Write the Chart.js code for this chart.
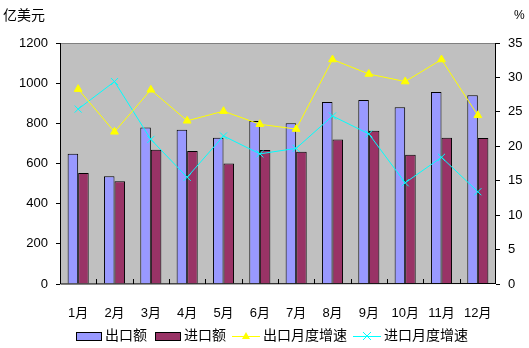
<!DOCTYPE html>
<html>
<head>
<meta charset="utf-8">
<script src="https://cdn.jsdelivr.net/npm/chart.js@4.4.1/dist/chart.umd.min.js"></script>
<style>
  html, body { margin: 0; padding: 0; background: #fff; }
  #wrap { width: 529px; height: 348px; }
</style>
</head>
<body>
<div id="wrap"><canvas id="chart" width="529" height="348"></canvas></div>
<script>
const months = ['1月', '2月', '3月', '4月', '5月', '6月', '7月', '8月', '9月', '10月', '11月', '12月'];
// 亿美元
const exports_ = [648, 537, 779, 768, 728, 812, 800, 906, 916, 880, 956, 940];
const imports_ = [553, 511, 668, 662, 600, 667, 659, 720, 763, 643, 728, 727];
// %
const exportGrowth = [28.3, 22.1, 28.2, 23.7, 25.1, 23.2, 22.5, 32.6, 30.5, 29.4, 32.6, 24.5];
const importGrowth = [25.4, 29.4, 21.0, 15.5, 21.5, 18.9, 19.7, 24.4, 21.8, 14.7, 18.4, 13.4];

const leftTicks = [0, 200, 400, 600, 800, 1000, 1200];
const rightTicks = [0, 5, 10, 15, 20, 25, 30, 35];

const FONT = '"Liberation Sans", "Noto Sans CJK SC", sans-serif';

// grey plot background + frame + inner x tick marks
const framePlugin = {
    id: 'frame',
    beforeDatasetsDraw(chart) {
        const { ctx, chartArea: a } = chart;
        ctx.save();
        ctx.fillStyle = '#c0c0c0';
        ctx.fillRect(a.left, a.top, a.right - a.left, a.bottom - a.top);
        ctx.restore();
    },
    afterDatasetsDraw(chart) {
        const { ctx, chartArea: a } = chart;
        ctx.save();
        ctx.lineWidth = 1;
        ctx.strokeStyle = '#808080';
        ctx.beginPath();
        ctx.moveTo(a.left, a.top + 0.5);
        ctx.lineTo(a.right, a.top + 0.5);
        ctx.stroke();
        ctx.strokeStyle = '#000';
        ctx.beginPath();
        ctx.moveTo(a.left + 0.5, a.top);
        ctx.lineTo(a.left + 0.5, a.bottom);
        ctx.lineTo(a.right, a.bottom - 0.5);
        ctx.moveTo(a.right - 0.5, a.top);
        ctx.lineTo(a.right - 0.5, a.bottom);
        // x tick marks between months, pointing inward
        const step = (a.right - a.left) / months.length;
        for (let i = 1; i < months.length; i++) {
            const x = Math.round(a.left + i * step) + 0.5;
            ctx.moveTo(x, a.bottom);
            ctx.lineTo(x, a.bottom - 5);
        }
        ctx.stroke();

        // axis unit titles
        ctx.fillStyle = '#000';
        ctx.font = '14px ' + FONT;
        ctx.textBaseline = 'middle';
        ctx.textAlign = 'left';
        ctx.fillText('亿美元', 3, 16);
        ctx.font = '12px ' + FONT;
        ctx.fillText('%', 514, 16);

        // legend
        const ly = 336;
        ctx.font = '14px ' + FONT;
        ctx.lineWidth = 1;
        ctx.strokeStyle = '#000';
        ctx.fillStyle = '#9999ff';
        ctx.fillRect(76, ly - 4, 25, 8);
        ctx.strokeRect(76.5, ly - 3.5, 25, 8);
        ctx.fillStyle = '#000';
        ctx.fillText('出口额', 105, ly);
        ctx.fillStyle = '#993366';
        ctx.fillRect(155, ly - 4, 25, 8);
        ctx.strokeRect(155.5, ly - 3.5, 25, 8);
        ctx.fillStyle = '#000';
        ctx.fillText('进口额', 184, ly);

        ctx.strokeStyle = '#ffff00';
        ctx.beginPath();
        ctx.moveTo(232, ly + 0.5);
        ctx.lineTo(260, ly + 0.5);
        ctx.stroke();
        ctx.fillStyle = '#ffff00';
        ctx.beginPath();
        ctx.moveTo(246, ly - 4);
        ctx.lineTo(250, ly + 3);
        ctx.lineTo(242, ly + 3);
        ctx.closePath();
        ctx.fill();
        ctx.fillStyle = '#000';
        ctx.fillText('出口月度增速', 263, ly);

        ctx.strokeStyle = '#00ffff';
        ctx.beginPath();
        ctx.moveTo(353, ly + 0.5);
        ctx.lineTo(381, ly + 0.5);
        ctx.moveTo(363, ly - 4);
        ctx.lineTo(371, ly + 4);
        ctx.moveTo(371, ly - 4);
        ctx.lineTo(363, ly + 4);
        ctx.stroke();
        ctx.fillStyle = '#000';
        ctx.fillText('进口月度增速', 384, ly);
        ctx.restore();
    }
};

new Chart(document.getElementById('chart'), {
    data: {
        labels: months,
        datasets: [
            {
                type: 'line',
                label: '出口月度增速',
                data: exportGrowth,
                yAxisID: 'y1',
                borderColor: '#ffff00',
                backgroundColor: '#ffff00',
                borderWidth: 1,
                pointStyle: 'triangle',
                pointRadius: 4.5,
                pointBorderWidth: 1,
                tension: 0,
                order: 1
            },
            {
                type: 'line',
                label: '进口月度增速',
                data: importGrowth,
                yAxisID: 'y1',
                borderColor: '#00ffff',
                backgroundColor: '#00ffff',
                borderWidth: 1,
                pointStyle: 'crossRot',
                pointRadius: 5,
                pointBorderWidth: 1,
                tension: 0,
                order: 2
            },
            {
                type: 'bar',
                label: '出口额',
                data: exports_,
                yAxisID: 'y',
                backgroundColor: '#9999ff',
                borderColor: '#000',
                borderWidth: 1,
                barPercentage: 1,
                categoryPercentage: 0.58,
                order: 3
            },
            {
                type: 'bar',
                label: '进口额',
                data: imports_,
                yAxisID: 'y',
                backgroundColor: '#993366',
                borderColor: '#000',
                borderWidth: 1,
                barPercentage: 1,
                categoryPercentage: 0.58,
                order: 4
            }
        ]
    },
    options: {
        responsive: false,
        animation: false,
        layout: { padding: { top: 43, left: 0, right: 0, bottom: 0 } },
        plugins: {
            legend: { display: false },
            tooltip: { enabled: false }
        },
        scales: {
            x: {
                grid: { display: false },
                border: { display: false },
                ticks: {
                    color: '#000',
                    font: { family: FONT, size: 13 },
                    padding: 14,
                    maxRotation: 0,
                    autoSkip: false
                },
                afterFit(scale) { scale.height = 64; }
            },
            y: {
                position: 'left',
                min: 0,
                max: 1200,
                afterBuildTicks(scale) { scale.ticks = leftTicks.map(v => ({ value: v })); },
                grid: { drawOnChartArea: false, color: '#000', tickLength: 4 },
                border: { display: false },
                ticks: {
                    color: '#000',
                    font: { family: FONT, size: 13 },
                    padding: 8,
                    callback: v => String(v)
                },
                afterFit(scale) { scale.width = 60; }
            },
            y1: {
                position: 'right',
                min: 0,
                max: 35,
                afterBuildTicks(scale) { scale.ticks = rightTicks.map(v => ({ value: v })); },
                grid: { drawOnChartArea: false, color: '#000', tickLength: 4 },
                border: { display: false },
                ticks: {
                    color: '#000',
                    font: { family: FONT, size: 13 },
                    padding: 8,
                    callback: v => String(v)
                },
                afterFit(scale) { scale.width = 33; }
            }
        }
    },
    plugins: [framePlugin]
});
</script>
</body>
</html>
